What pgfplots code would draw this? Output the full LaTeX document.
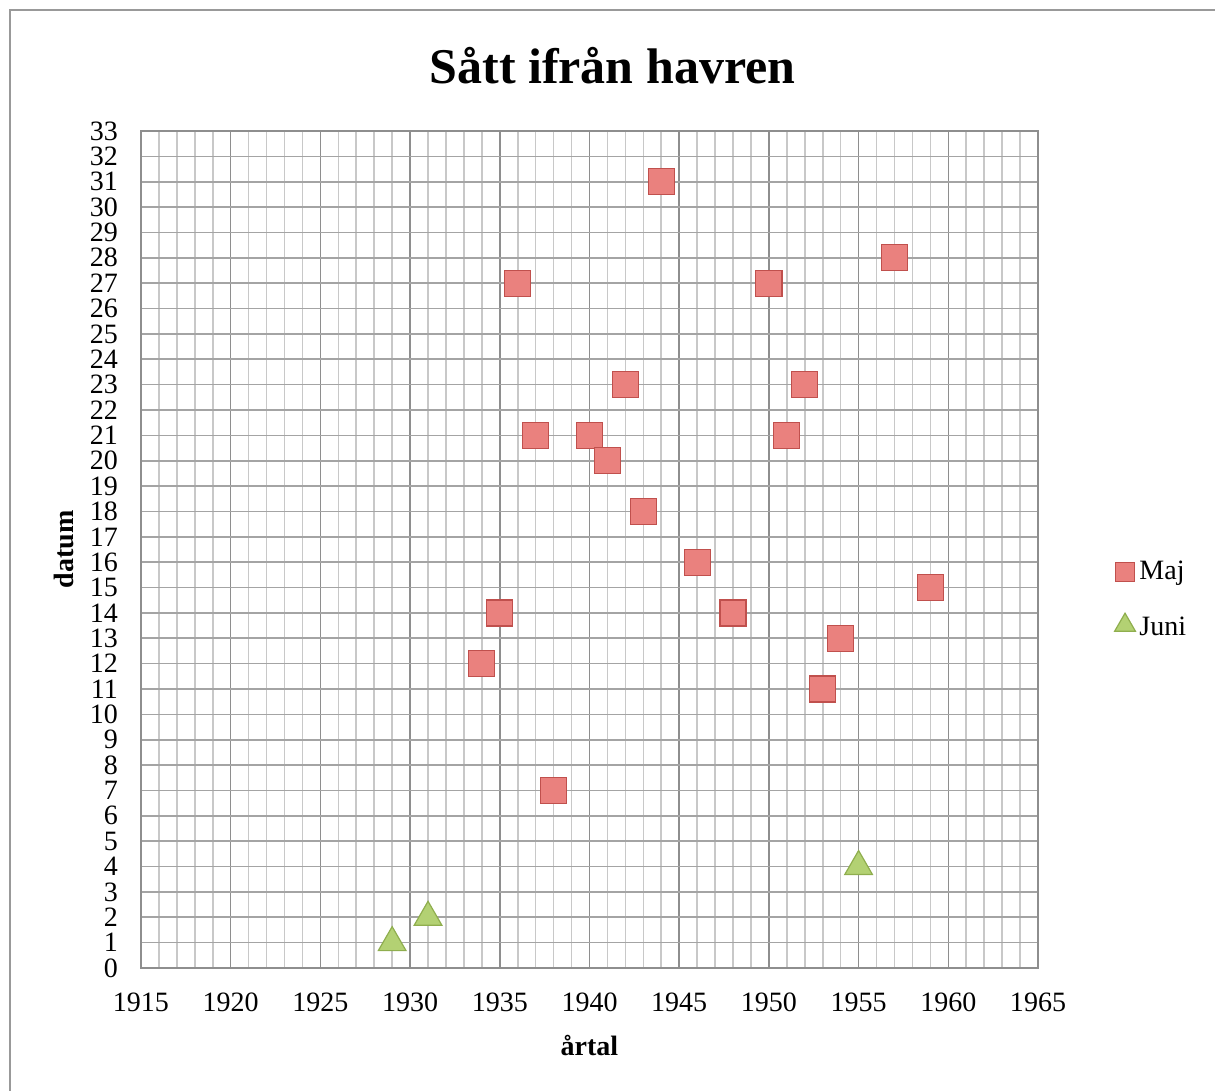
\documentclass[border=0pt]{standalone}
\usepackage{pgfplots}
\pgfplotsset{compat=1.18}
\usepackage{fontspec}
\setmainfont{Liberation Serif}
\definecolor{majfill}{HTML}{EA817E}
\definecolor{majdraw}{HTML}{C0504D}
\definecolor{junfill}{HTML}{B3D173}
\definecolor{jundraw}{HTML}{8FAE4E}
\definecolor{gmaj}{HTML}{8E8E8E}
\definecolor{gy}{HTML}{A4A4A4}
\definecolor{gmin}{HTML}{C8C8C8}
\pgfplotsset{
  majleg/.style={legend image code/.code={\draw[##1, mark size=4.8pt] plot coordinates {(0.1cm,0cm)};}},
  junleg/.style={legend image code/.code={\draw[##1, mark size=6pt] plot coordinates {(0.1cm,0.04cm)};}},
}
\begin{document}
\begin{tikzpicture}
\useasboundingbox (-70.5pt,-61.5pt) rectangle (537pt,484pt);
\draw[gray!80, line width=0.8pt] (-65.5pt,-61.5pt) -- (-65.5pt,479pt) -- (537pt,479pt);
\begin{axis}[
  at={(0,0)}, anchor=south west,
  scale only axis, width=448.5pt, height=418.5pt,
  xmin=1915, xmax=1965, ymin=0, ymax=33,
  xtick={1915,1920,...,1965},
  minor x tick num=4,
  ytick={0,1,...,33},
  grid=both,
  major x grid style={gmaj, line width=0.8pt},
  major y grid style={gy, line width=0.8pt},
  minor x grid style={gmin, line width=0.8pt},
  axis line style={gmaj, line width=0.8pt},
  tick style={draw=none},
  xticklabel style={/pgf/number format/1000 sep={}, font=\fontsize{14}{16}\selectfont, yshift=-9pt},
  yticklabel style={font=\fontsize{14}{16}\selectfont, xshift=-8pt},
  /pgf/number format/assume math mode=true,
  xlabel={\textbf{årtal}},
  ylabel={\textbf{datum}},
  xlabel style={font=\fontsize{14}{16}\selectfont, yshift=-5pt},
  ylabel style={font=\fontsize{14}{16}\selectfont, yshift=1pt},
  title={\textbf{Sått ifrån havren}},
  title style={font=\fontsize{25}{30}\selectfont, yshift=14pt, xshift=11.5pt},
  legend style={draw=none, fill=none, at={(1.085,0.440)}, anchor=west, font=\fontsize{14}{16}\selectfont, row sep=13pt, inner sep=0pt},
  legend cell align=left,
]
\addplot[only marks, mark=square*, mark size=6.5pt, mark options={fill=majfill, draw=majdraw, line width=0.6pt}, majleg] coordinates {
(1934,12) (1935,14) (1936,27) (1937,21) (1938,7) (1940,21) (1941,20) (1942,23)
(1943,18) (1944,31) (1946,16) (1948,14) (1950,27) (1951,21) (1952,23) (1953,11)
(1954,13) (1957,28) (1959,15)};
\addlegendentry{Maj}
\addplot[only marks, mark=triangle*, mark size=8pt, mark options={fill=junfill, draw=jundraw, line width=0.6pt}, junleg] coordinates {
(1929,1) (1931,2) (1955,4)};
\addlegendentry{Juni}
\end{axis}
\end{tikzpicture}
\end{document}
